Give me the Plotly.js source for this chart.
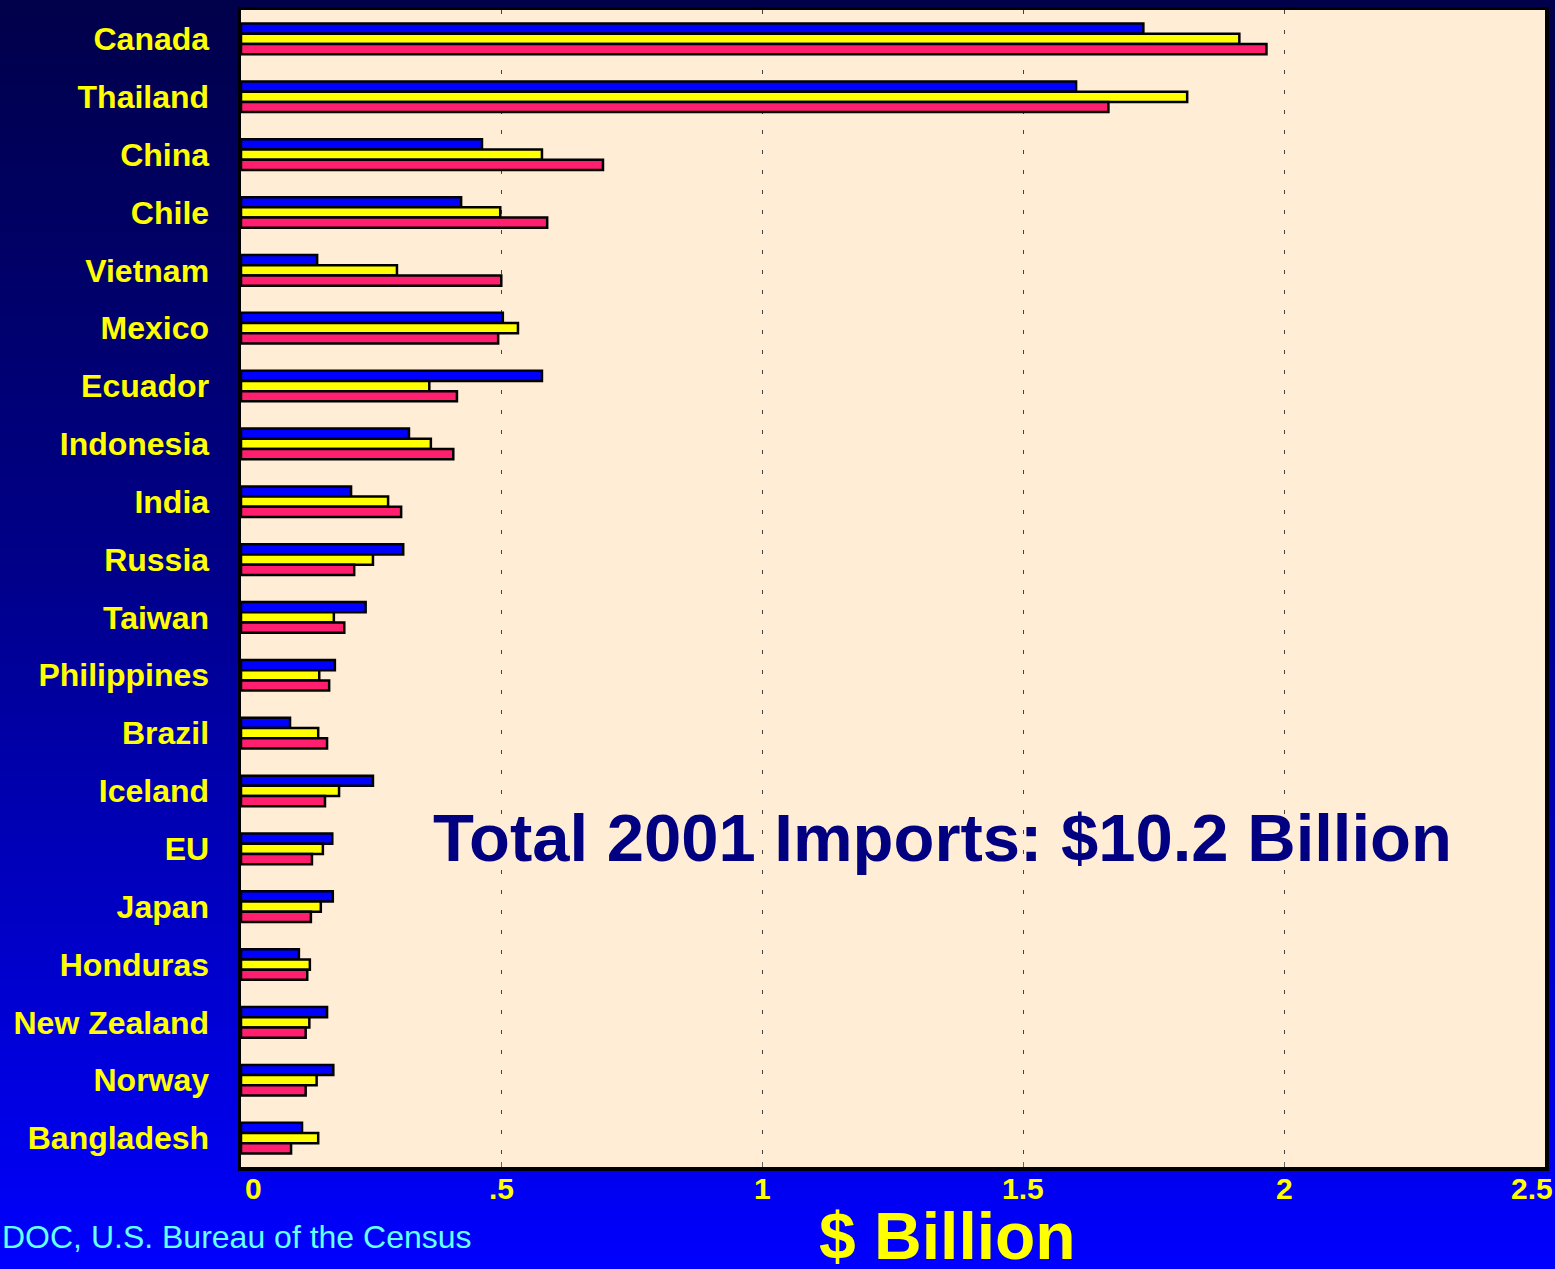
<!DOCTYPE html>
<html>
<head>
<meta charset="utf-8">
<script src="https://cdn.plot.ly/plotly-3.0.1.min.js"></script>
<style>
  html, body { margin: 0; padding: 0; }
  body { width: 1555px; height: 1269px; background: linear-gradient(to bottom, #00004a 0%, #00008a 45%, #0000ff 100%); }
  #chart { width: 1555px; height: 1269px; }
</style>
</head>
<body>
<div id="chart"></div>
<script>
const countries = ["Canada","Thailand","China","Chile","Vietnam","Mexico","Ecuador","Indonesia","India","Russia","Taiwan","Philippines","Brazil","Iceland","EU","Japan","Honduras","New Zealand","Norway","Bangladesh"];
const seriesNames = ["1999","2000","2001"];
const values1999 = [1.730,1.601,0.462,0.422,0.146,0.502,0.577,0.322,0.211,0.311,0.239,0.180,0.094,0.253,0.175,0.176,0.111,0.165,0.177,0.117];
const values2000 = [1.914,1.814,0.577,0.497,0.299,0.531,0.361,0.364,0.282,0.253,0.178,0.150,0.148,0.188,0.157,0.153,0.132,0.131,0.145,0.148];
const values2001 = [1.966,1.663,0.694,0.587,0.499,0.493,0.414,0.407,0.307,0.217,0.198,0.169,0.165,0.161,0.136,0.134,0.127,0.124,0.124,0.096];
const tickValues = [0,0.5,1,1.5,2,2.5];
const tickLabels = ["0",".5","1","1.5","2","2.5"];
const colors = ["#0000ff","#ffff00","#ff1f6e"];

const allValues = [values1999, values2000, values2001];
const traces = allValues.map((vals, i) => ({
  type: 'bar',
  orientation: 'h',
  name: seriesNames[i],
  y: countries,
  x: vals,
  marker: { color: colors[i], line: { color: '#000000', width: 2.5 } },
  hoverinfo: 'x+y+name'
}));

// x tick labels drawn as annotations placed on the axis scale (edge labels nudged inward as in the original)
const tickAnnotations = tickValues.map((v, i) => ({
  text: tickLabels[i],
  xref: 'x', yref: 'paper',
  x: v, y: -0.019,
  xanchor: 'center', yanchor: 'middle',
  xshift: i === 0 ? 12 : (i === tickValues.length - 1 ? -13 : 0),
  showarrow: false,
  font: { family: 'Liberation Sans, Arial, sans-serif', size: 30, color: '#ffff00', weight: 'bold' }
}));

const layout = {
  width: 1555,
  height: 1269,
  paper_bgcolor: 'rgba(0,0,0,0)',
  plot_bgcolor: '#ffedd6',
  margin: { l: 241, r: 10, t: 10, b: 102 },
  barmode: 'group',
  bargap: 0.47,
  bargroupgap: 0,
  showlegend: false,
  font: { family: 'Liberation Sans, Arial, sans-serif', color: '#ffff00' },
  xaxis: {
    range: [0, 2.5],
    tickvals: tickValues,
    ticktext: tickLabels,
    showticklabels: false,
    showgrid: true,
    gridcolor: '#444444',
    gridwidth: 1,
    griddash: '4px,16px',
    zeroline: false,
    showline: true,
    linecolor: '#000000',
    linewidth: 3.5,
    mirror: true,
    ticks: 'inside',
    ticklen: 5,
    tickcolor: '#666666',
    tickwidth: 1
  },
  yaxis: {
    type: 'category',
    categoryorder: 'array',
    categoryarray: countries,
    autorange: 'reversed',
    tickfont: { family: 'Liberation Sans, Arial, sans-serif', size: 32, color: '#ffff00', weight: 'bold' },
    ticks: '',
    ticklabelstandoff: 22,
    showgrid: false,
    zeroline: false,
    showline: true,
    linecolor: '#000000',
    linewidth: 3.5,
    mirror: true
  },
  annotations: tickAnnotations.concat([
    {
      text: 'Total 2001 Imports: $10.2 Billion',
      xref: 'paper', yref: 'paper',
      x: 0.538, y: 0.285,
      xanchor: 'center', yanchor: 'middle',
      showarrow: false,
      font: { family: 'Liberation Sans, Arial, sans-serif', size: 67, color: '#000080', weight: 'bold' }
    },
    {
      text: '$ Billion',
      xref: 'paper', yref: 'paper',
      x: 0.542, y: -0.060,
      xanchor: 'center', yanchor: 'middle',
      showarrow: false,
      font: { family: 'Liberation Sans, Arial, sans-serif', size: 66, color: '#ffff00', weight: 'bold' }
    },
    {
      text: 'DOC, U.S. Bureau of the Census',
      xref: 'paper', yref: 'paper',
      x: -0.1848, y: -0.0605,
      xanchor: 'left', yanchor: 'middle',
      showarrow: false,
      font: { family: 'Liberation Sans, Arial, sans-serif', size: 32, color: '#66ffff' }
    }
  ])
};

Plotly.newPlot('chart', traces, layout, { displayModeBar: false, staticPlot: true });
</script>
</body>
</html>
